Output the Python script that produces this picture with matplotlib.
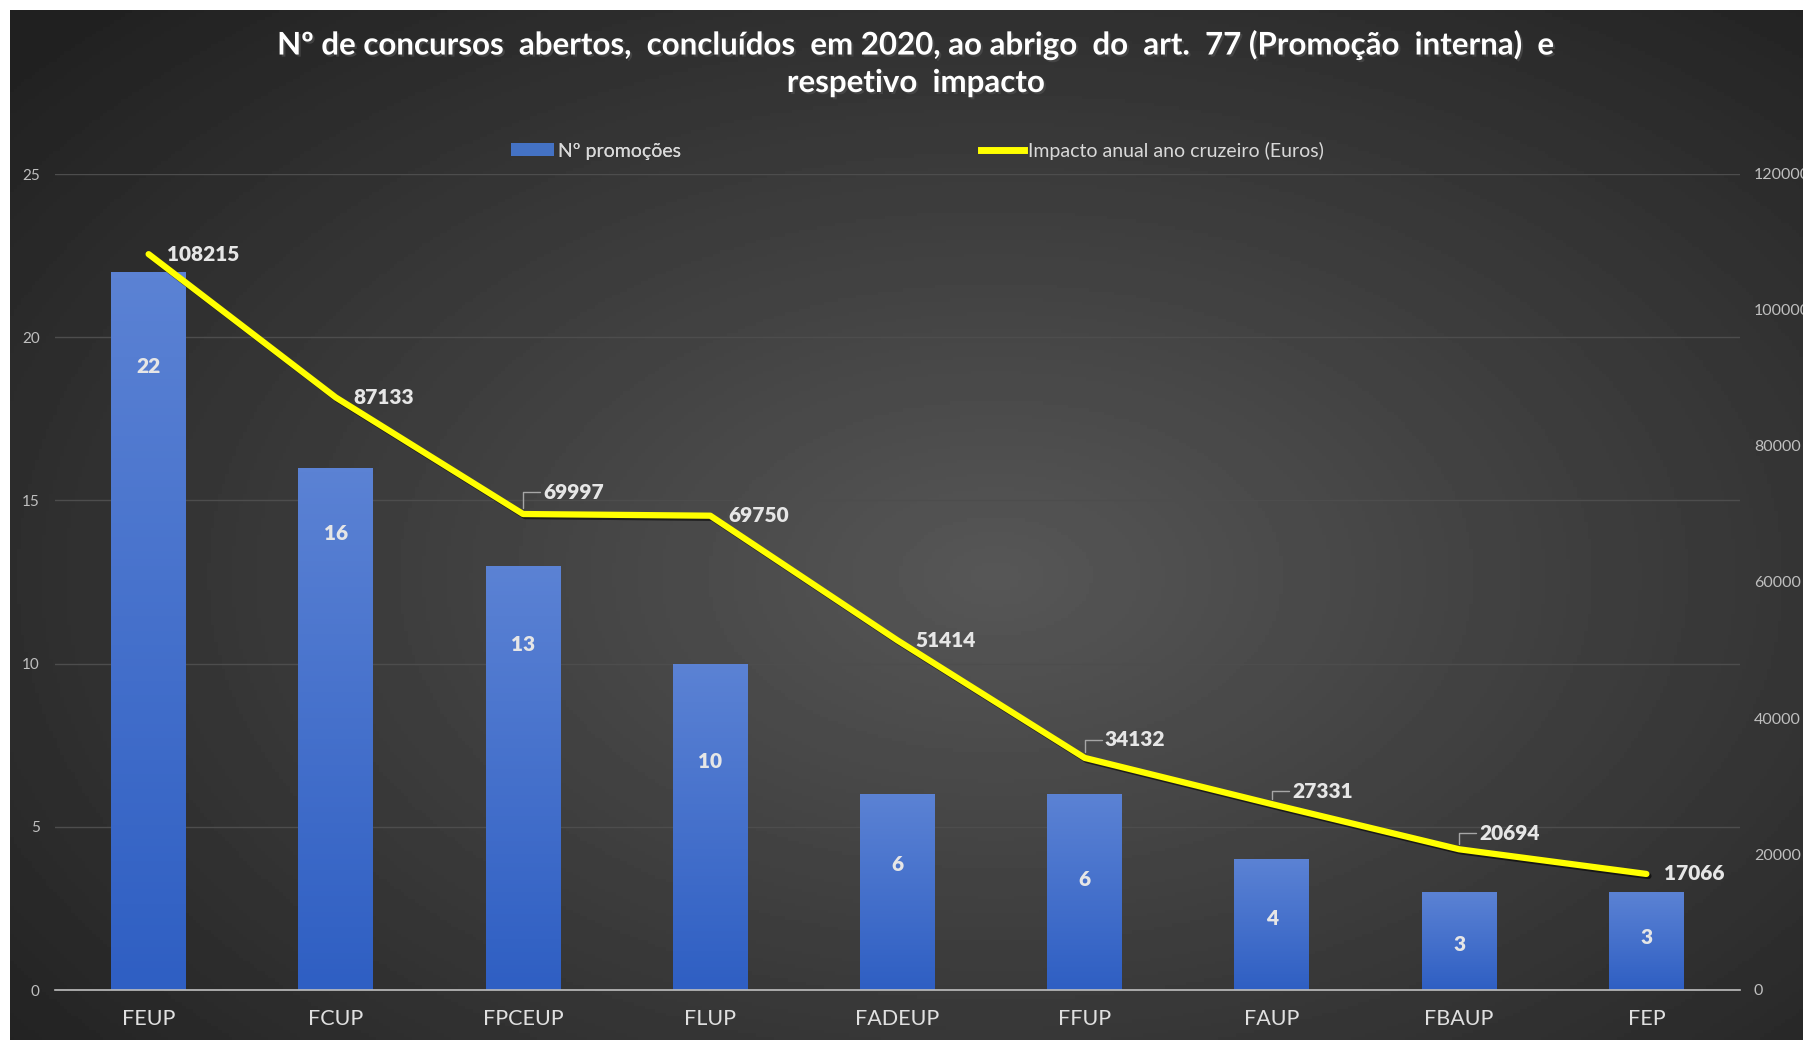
import numpy as np
import matplotlib.pyplot as plt
import matplotlib.patheffects as pe
from matplotlib.patches import Patch
from matplotlib.lines import Line2D
from matplotlib.colors import LinearSegmentedColormap

plt.rcParams['font.family'] = ['Lato', 'DejaVu Sans']

categories = ['FEUP', 'FCUP', 'FPCEUP', 'FLUP', 'FADEUP', 'FFUP', 'FAUP', 'FBAUP', 'FEP']
promocoes = [22, 16, 13, 10, 6, 6, 4, 3, 3]
impacto = [108215, 87133, 69997, 69750, 51414, 34132, 27331, 20694, 17066]

# where the count labels sit inside the bars (left-axis units)
count_label_y = [19.1, 14.0, 10.6, 7.0, 3.85, 3.4, 2.2, 1.4, 1.6]
# offsets (px) of the euro labels and whether they have a leader line
impact_offsets = [(18, 0), (18, 0), (20, 22), (18, 0), (18, 0), (20, 18), (20, 13), (20, 16), (18, 0)]
impact_leader = [False, False, True, False, False, True, True, True, False]

fig = plt.figure(figsize=(18.03, 10.40), dpi=100, facecolor='white')

# dark radial background
bg = fig.add_axes([10 / 1803, 0, 1 - 10 / 1803, 1 - 10 / 1040])
yy, xx = np.mgrid[0:1:300j, 0:1:500j]
r = np.sqrt(((xx - 0.55) / 0.75) ** 2 + ((yy - 0.45) / 0.8) ** 2)
shade = np.clip(0.34 - 0.22 * r, 0.13, 0.34)
bg.imshow(shade, cmap='gray', vmin=0, vmax=1, aspect='auto', extent=(0, 1, 0, 1), origin='lower')
bg.axis('off')

ax = fig.add_axes([55 / 1803, 1 - 990 / 1040, 1685 / 1803, 816 / 1040])
ax.patch.set_alpha(0)
x = np.arange(len(categories))

bars = ax.bar(x, promocoes, width=0.4, color='#4472C4', zorder=2)
grad = np.linspace(0, 1, 100).reshape(-1, 1)
bar_cmap = LinearSegmentedColormap.from_list('b', ['#2f5fc3', '#5b82d4'])
for b in bars:
    im = ax.imshow(grad, cmap=bar_cmap, aspect='auto', origin='lower',
                   extent=(b.get_x(), b.get_x() + b.get_width(), 0, b.get_height()), zorder=2)
    im.set_clip_path(b)

for xi, v, ly in zip(x, promocoes, count_label_y):
    ax.text(xi, ly, str(v), ha='center', va='center', color='#e6e6e6',
            fontsize=15, fontweight='heavy', zorder=4)

ax.set_xlim(-0.5, len(categories) - 0.5)
ax.set_ylim(0, 25)
ax.set_yticks(range(0, 26, 5))
ax.grid(axis='y', color='#4d4d4d', linewidth=1, zorder=0)
ax.set_xticks(x)
ax.set_xticklabels(categories, fontsize=15.5, color='#e0e0e0')
ax.tick_params(axis='x', length=0, pad=14)
ax.tick_params(axis='y', length=0, pad=11, labelsize=11, labelcolor='#bfbfbf')
for s in ['top', 'right', 'left']:
    ax.spines[s].set_visible(False)
ax.spines['bottom'].set_color('#bfbfbf')
ax.spines['bottom'].set_linewidth(1.2)

ax2 = ax.twinx()
ax2.set_ylim(0, 120000)
ax2.set_yticks(range(0, 120001, 20000))
ax2.tick_params(axis='y', length=0, pad=10, labelsize=11.5, labelcolor='#bfbfbf')
for s in ax2.spines.values():
    s.set_visible(False)
ax2.plot(x, impacto, color='#ffff00', linewidth=4.5, solid_capstyle='round', zorder=5,
         path_effects=[pe.SimpleLineShadow(offset=(1.5, -1.5), shadow_color='black', alpha=0.6),
                       pe.Normal()])

for xi, v, off, lead in zip(x, impacto, impact_offsets, impact_leader):
    kw = {}
    if lead:
        kw['arrowprops'] = dict(arrowstyle='-', color='#a6a6a6', lw=1,
                                connectionstyle='angle,angleA=0,angleB=90,rad=0',
                                shrinkA=0, shrinkB=4)
    ax2.annotate(str(v), (xi, v), xytext=off, textcoords='offset pixels',
                 ha='left', va='center', color='#e6e6e6', fontsize=15,
                 fontweight='heavy', zorder=6, **kw)

title_fx = [pe.withSimplePatchShadow(offset=(1.5, -1.5), alpha=0.7)]
fig.text(0.508, 1 - 45 / 1040,
         'Nº de concursos  abertos,  concluídos  em 2020, ao abrigo  do  art.  77 (Promoção  interna)  e',
         ha='center', va='center', color='white', fontsize=22.5, fontweight='bold',
         path_effects=title_fx)
fig.text(0.508, 1 - 83 / 1040, 'respetivo  impacto',
         ha='center', va='center', color='white', fontsize=22.5, fontweight='bold',
         path_effects=title_fx)

leg_kw = dict(loc='center left', frameon=False, fontsize=14, labelcolor='#d9d9d9',
              handlelength=2.2, handletextpad=0.2, borderpad=0, borderaxespad=0)
leg1 = fig.legend([Patch(facecolor='#4472C4', edgecolor='none')], ['Nº promoções'],
                  bbox_to_anchor=(511 / 1803, 1 - 151 / 1040), handleheight=0.6, **leg_kw)
fig.add_artist(leg1)
fig.legend([Line2D([0], [0], color='#ffff00', linewidth=5)],
           ['Impacto anual ano cruzeiro (Euros)'],
           bbox_to_anchor=(981 / 1803, 1 - 151 / 1040), **leg_kw)

fig.savefig('out.png', dpi=100, facecolor=fig.get_facecolor())
